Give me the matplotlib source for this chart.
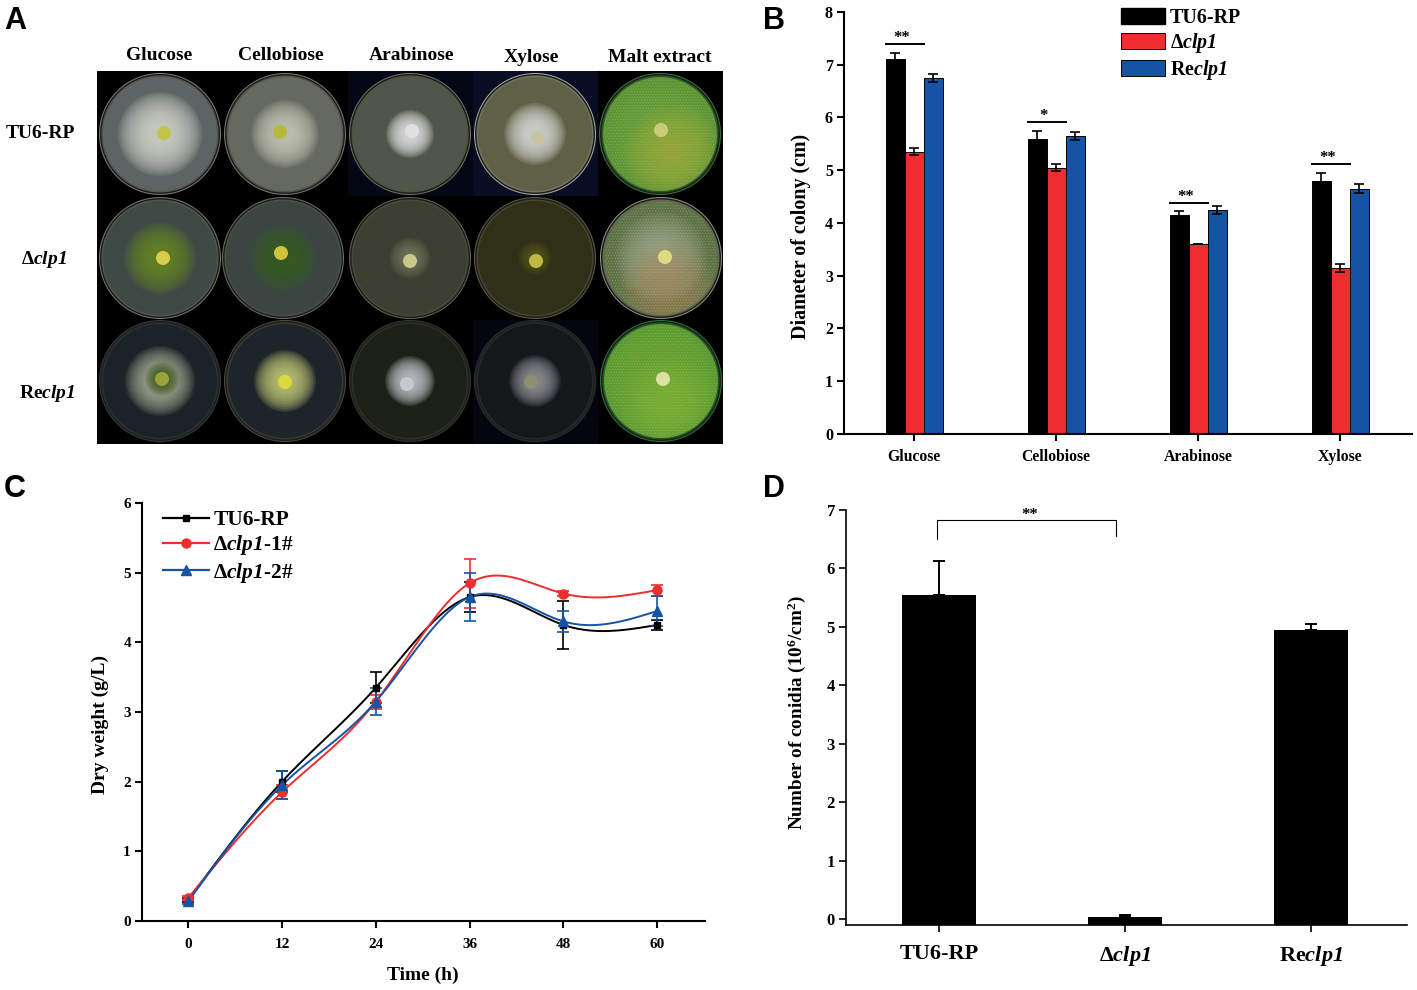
# coding = utf-8

import numpy as np
from matplotlib import pyplot as plt
from matplotlib.lines import Line2D
from matplotlib.patches import Circle, Patch, Rectangle

# panel A, plates
media = ['Glucose', 'Cellobiose', 'Arabinose', 'Xylose', 'Malt extract']
media_x = [159, 281, 412, 531, 660]
media_y = [55, 55, 56, 57, 57]
strains_a = ['TU6-RP', 'Δ$\\mathrm{clp1}$', 'Re$\\mathrm{clp1}$']
plate_x = [[160, 285, 410, 535, 660],
           [160, 283, 410, 535, 661],
           [160, 285, 410, 535, 661]]
plate_y = [134, 258, 381]
plate_base = [['#5d6564', '#66695f', '#50564a', '#5f6046', '#5c9436'],
              ['#3d4a46', '#3b4642', '#3b3e30', '#2f3018', '#5e7048'],
              ['#1b2329', '#1d252b', '#1b2116', '#14181b', '#5b9a30']]
plate_rim = [['#8d9086', '#8c8d7f', '#84866c', '#c8c8b0', '#3f8a3a'],
             ['#8c8c7a', '#7d8070', '#77755c', '#6f6c48', '#a8b090'],
             ['#3d444a', '#55574a', '#3f4232', '#30343a', '#2f8a3c']]
colony_colour = [['#d4d6cc', '#c8cabb', '#e4e4e4', '#d8dad8', '#6fa83c'],
                 ['#6a8a24', '#34601e', '#8b8f70', '#6c6c20', '#a4b098'],
                 ['#b4bca0', '#c6ca78', '#c4c5cc', '#9a9ca0', '#72ac3c']]
colony_radius = [[42, 34, 24, 31, 52],
                 [36, 33, 21, 17, 46],
                 [35, 31, 25, 26, 52]]
colony_strength = [[1.0, 0.95, 1.0, 1.0, 0.5],
                   [0.9, 0.9, 0.5, 0.5, 0.7],
                   [0.85, 1.0, 1.0, 0.85, 0.5]]
tone_colour = ['#aab040', '#a8845c', '#84b83c']
tone_x = [672, 668, 668]
tone_y = [152, 288, 402]
halo_radius = [[0, 0, 0, 0, 0],
               [0, 0, 0, 0, 0],
               [17, 0, 0, 0, 0]]
plug_x = [[164, 280, 412, 538, 661],
          [163, 281, 410, 536, 665],
          [162, 285, 407, 531, 663]]
plug_y = [[133, 132, 131, 138, 130],
          [258, 253, 261, 261, 257],
          [379, 382, 384, 382, 379]]
plug_colour = [['#c2c44a', '#b8b840', '#e0e0e0', '#c8c4a0', '#c8cc7a'],
               ['#d8cc48', '#d0c23c', '#c8c88a', '#c0b840', '#dcdc7c'],
               ['#9ca23a', '#dcd840', '#c8c8d0', '#8f8f70', '#dde0a0']]

# panel B
categories_b = ['Glucose', 'Cellobiose', 'Arabinose', 'Xylose']
wt_b = [7.1, 5.6, 4.15, 4.8]
ko_b = [5.35, 5.05, 3.6, 3.15]
re_b = [6.75, 5.65, 4.25, 4.65]
wt_b_err = [0.13, 0.14, 0.07, 0.14]
ko_b_err = [0.07, 0.07, 0.0, 0.08]
re_b_err = [0.07, 0.08, 0.08, 0.08]
sig_b_y = [7.39, 5.91, 4.38, 5.12]
sig_b_text = ['**', '*', '**', '**']

# panel C
hours = [0, 12, 24, 36, 48, 60]
wt_c = [0.30, 2.0, 3.35, 4.65, 4.25, 4.25]
ko1_c = [0.33, 1.85, 3.15, 4.85, 4.70, 4.75]
ko2_c = [0.28, 1.95, 3.15, 4.65, 4.30, 4.45]
wt_c_err = [0.03, 0.15, 0.22, 0.22, 0.35, 0.07]
ko1_c_err = [0.03, 0.10, 0.10, 0.35, 0.03, 0.08]
ko2_c_err = [0.03, 0.20, 0.20, 0.35, 0.15, 0.22]

# panel D
strains_d = ['TU6-RP', 'Δ$\\mathrm{clp1}$', 'Re$\\mathrm{clp1}$']
conidia = [5.55, 0.04, 4.95]
conidia_err = [0.58, 0.02, 0.10]

RED = '#ee2d2e'
BLUE = '#1554a5'
W, H = 1417, 990

plt.rcParams['font.family'] = ['Liberation Serif', 'DejaVu Serif']
plt.rcParams['font.weight'] = 'bold'
plt.rcParams['mathtext.fontset'] = 'custom'
plt.rcParams['mathtext.rm'] = 'Liberation Serif:italic:bold'
plt.rcParams['mathtext.bf'] = 'Liberation Serif:bold'
plt.rcParams['mathtext.it'] = 'Liberation Serif:italic:bold'
plt.rcParams['hatch.linewidth'] = 0.6


def box(left, top, right, bottom):
    # axes rectangle from pixel edges of the picture
    return [left / W, 1 - bottom / H, (right - left) / W, (bottom - top) / H]


def label(x, y, s, size, **kw):
    kw.setdefault('ha', 'center')
    kw.setdefault('va', 'center')
    fig.text(x / W, 1 - y / H, s, fontsize=size, **kw)


def smooth(x, y, n=40):
    # natural cubic spline through the points, for the drawn curve only
    x, y = np.asarray(x, float), np.asarray(y, float)
    h = np.diff(x)
    m = len(x)
    a = np.zeros((m, m))
    b = np.zeros(m)
    a[0, 0] = a[-1, -1] = 1
    for i in range(1, m - 1):
        a[i, i - 1] = h[i - 1]
        a[i, i] = 2 * (h[i - 1] + h[i])
        a[i, i + 1] = h[i]
        b[i] = 6 * ((y[i + 1] - y[i]) / h[i] - (y[i] - y[i - 1]) / h[i - 1])
    c = np.linalg.solve(a, b)
    xs, ys = [], []
    for i in range(m - 1):
        t = np.linspace(x[i], x[i + 1], n)
        u = x[i + 1] - t
        v = t - x[i]
        ys.append((c[i] * u**3 + c[i + 1] * v**3) / (6 * h[i])
                  + (y[i] / h[i] - c[i] * h[i] / 6) * u
                  + (y[i + 1] / h[i] - c[i + 1] * h[i] / 6) * v)
        xs.append(t)
    return np.concatenate(xs), np.concatenate(ys)


def clean_axes(ax, lw):
    ax.spines['top'].set_visible(False)
    ax.spines['right'].set_visible(False)
    ax.spines['left'].set_linewidth(lw)
    ax.spines['bottom'].set_linewidth(lw)
    ax.tick_params(axis='both', width=lw, length=5, pad=3)


def soft_disc(ax, x, y, radius, colour, alpha, clip=None):
    # stack of faint discs, so that the edge fades out
    for k in range(16):
        disc = Circle((x, y), radius * (1 - k * 0.05), fc=colour, ec='none', alpha=alpha)
        ax.add_patch(disc)
        if clip is not None:
            disc.set_clip_path(clip)


fig = plt.figure(figsize=(W / 100, H / 100), dpi=100)

# A: the plate photographs, redrawn as discs
ax_a = fig.add_axes(box(97, 71, 723, 444))
ax_a.set_xlim(97, 723)
ax_a.set_ylim(444, 71)
ax_a.axis('off')
ax_a.add_patch(Rectangle((97, 71), 626, 373, fc='black', ec='none'))
ax_a.add_patch(Rectangle((348, 71), 125, 125, fc='#040714', ec='none'))
ax_a.add_patch(Rectangle((473, 71), 125, 125, fc='#090e24', ec='none'))
ax_a.add_patch(Rectangle((473, 320), 125, 124, fc='#04060f', ec='none'))
for r in range(3):
    for c in range(5):
        cx, cy = plate_x[r][c], plate_y[r]
        ax_a.add_patch(Circle((cx, cy), 61, fc=plate_rim[r][c], ec='none', alpha=0.85))
        ax_a.add_patch(Circle((cx, cy), 60, fc='#1c1f1c', ec='none'))
        ax_a.add_patch(Circle((cx, cy), 58.5, fc=plate_rim[r][c], ec='none', alpha=0.5))
        inner = Circle((cx, cy), 57, fc=plate_base[r][c], ec='none')
        ax_a.add_patch(inner)
        soft_disc(ax_a, cx, cy, colony_radius[r][c], colony_colour[r][c], 0.13 * colony_strength[r][c])
        if c == 4:
            # malt plates are overgrown: a lighter side and a grainy surface
            soft_disc(ax_a, tone_x[r], tone_y[r], 48, tone_colour[r], 0.07, clip=inner)
            ax_a.add_patch(Circle((cx, cy), 56, fc='none', ec='#a6cc78', lw=0, hatch='......', alpha=0.35))
        if halo_radius[r][c]:
            soft_disc(ax_a, plug_x[r][c], plug_y[r][c], halo_radius[r][c], '#3e5a20', 0.12)
        ax_a.add_patch(Circle((plug_x[r][c], plug_y[r][c]), 7, fc=plug_colour[r][c], ec='none'))

for x, y, name in zip(media_x, media_y, media):
    label(x, y, name, 14)
for y, x, name in zip([134, 259, 393], [40, 44, 47], strains_a):
    label(x, y, name, 14)

# B
ax_b = fig.add_axes(box(844, 12, 1412, 434))
clean_axes(ax_b, 1.5)
pos = np.arange(len(categories_b))
w = 19 / 142
err_kw = dict(ecolor='black', elinewidth=1.2, capthick=1.2, capsize=3.5)
ax_b.bar(pos - w, wt_b, w, color='black', edgecolor='black', linewidth=0.7, yerr=wt_b_err, error_kw=err_kw)
ax_b.bar(pos, ko_b, w, color=RED, edgecolor='black', linewidth=0.7, yerr=ko_b_err, error_kw=err_kw)
ax_b.bar(pos + w, re_b, w, color=BLUE, edgecolor='black', linewidth=0.7, yerr=re_b_err, error_kw=err_kw)
for p, y, s in zip(pos, sig_b_y, sig_b_text):
    ax_b.plot([p - 0.2, p + 0.07], [y, y], color='black', lw=1.4)
    ax_b.text(p - 0.085, y + 0.11, s, ha='center', va='center', fontsize=12)
ax_b.set_xlim(-0.493, 3.507)
ax_b.set_ylim(0, 8)
ax_b.set_xticks(pos)
ax_b.set_xticklabels(categories_b, fontsize=11.3)
ax_b.tick_params(axis='y', labelsize=11.5)
ax_b.tick_params(axis='x', pad=6)
label(801, 236, 'Diameter of colony (cm)', 14.4, rotation=90)
ax_b.legend(handles=[Patch(fc='black', ec='black'), Patch(fc=RED, ec='black', lw=0.7), Patch(fc=BLUE, ec='black', lw=0.7)],
            labels=['TU6-RP', 'Δ$\\mathrm{clp1}$', 'Re$\\mathrm{clp1}$'],
            loc='upper left', bbox_to_anchor=(1113 / W, 1), bbox_transform=fig.transFigure,
            frameon=False, fontsize=14.4, handlelength=2.2, handleheight=0.85,
            labelspacing=0.14, handletextpad=0.25, borderaxespad=0)

# C
ax_c = fig.add_axes(box(142, 503, 705, 921))
clean_axes(ax_c, 1.5)
series_c = [(wt_c, wt_c_err, 'black', 's', 5), (ko1_c, ko1_c_err, RED, 'o', 6.5), (ko2_c, ko2_c_err, BLUE, '^', 6.5)]
for vals, errs, col, mark, size in series_c:
    xs, ys = smooth(hours, vals)
    ax_c.plot(xs, ys, color=col, lw=1.4)
    ax_c.errorbar(hours, vals, yerr=errs, fmt=mark, color=col, ms=size, elinewidth=1.2, capthick=1.2, capsize=4)
ax_c.set_xlim(-5.9, 66.1)
ax_c.set_ylim(0, 6)
ax_c.set_xticks(hours)
ax_c.tick_params(axis='both', labelsize=11)
ax_c.tick_params(axis='x', pad=7)
label(423, 975, 'Time (h)', 14)
label(100, 725, 'Dry weight (g/L)', 14, rotation=90)
ax_c.legend(handles=[Line2D([], [], color=col, marker=mark, ms=size, lw=1.6) for _, _, col, mark, size in series_c],
            labels=['TU6-RP', 'Δ$\\mathrm{clp1}$-1#', 'Δ$\\mathrm{clp1}$-2#'],
            loc='upper left', bbox_to_anchor=(163 / W, 1 - 510 / H), bbox_transform=fig.transFigure,
            frameon=False, fontsize=15.4, handlelength=2.15, labelspacing=0.16,
            handletextpad=0.2, borderaxespad=0, borderpad=0)

# D
ax_d = fig.add_axes(box(846, 510, 1407, 925))
clean_axes(ax_d, 1.2)
pos_d = np.arange(len(strains_d))
ymin_d = -0.103
# bars reach down to the axis line, below the zero tick
ax_d.bar(pos_d, np.array(conidia) - ymin_d, 0.4, bottom=ymin_d, color='black', yerr=[[0, 0, 0], conidia_err],
         error_kw=dict(ecolor='black', elinewidth=1.4, capthick=1.4, capsize=4.5))
ax_d.plot([-0.01, -0.01, 0.95, 0.95], [6.5, 6.83, 6.83, 6.56], color='black', lw=0.8)
ax_d.text(0.49, 6.92, '**', ha='center', va='center', fontsize=12)
ax_d.set_xlim(-0.5, 2.516)
ax_d.set_ylim(ymin_d, 7)
ax_d.set_xticks(pos_d)
ax_d.set_xticklabels(strains_d, fontsize=16)
ax_d.tick_params(axis='y', labelsize=12)
ax_d.tick_params(axis='x', pad=9)
label(797, 712, 'Number of conidia (10$^{\\mathbf{6}}$/cm$^{\\mathbf{2}}$)', 13.8, rotation=90)

# panel letters
for x, y, s in [(15, 21, 'A'), (774, 21, 'B'), (15, 489, 'C'), (774, 489, 'D')]:
    label(x, y, s, 22, family='Liberation Sans')

plt.savefig('out.png', dpi=100)
